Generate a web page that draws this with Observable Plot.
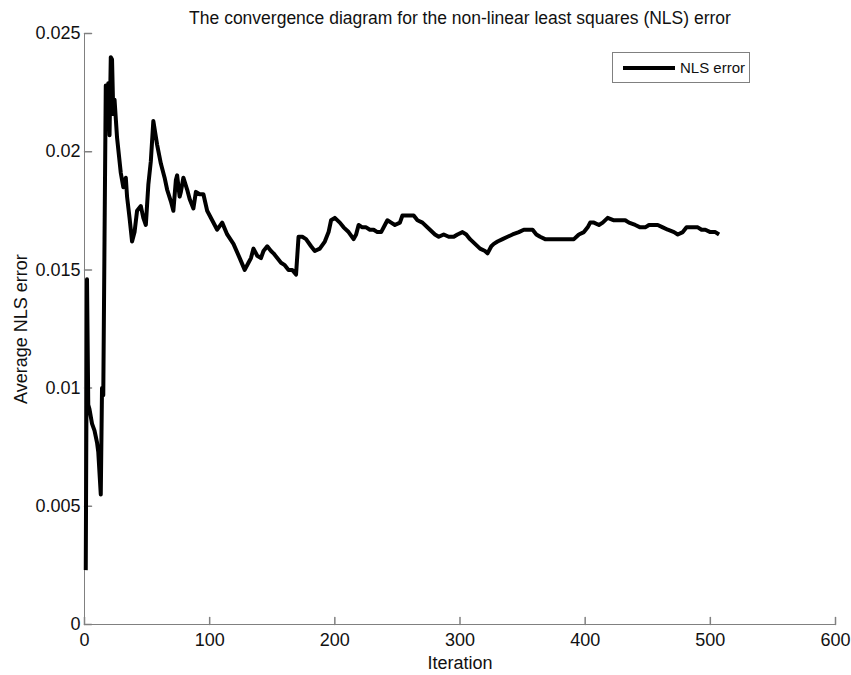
<!DOCTYPE html>
<html>
<head>
<meta charset="utf-8">
<script src="https://cdn.jsdelivr.net/npm/d3@7"></script>
<script src="https://cdn.jsdelivr.net/npm/@observablehq/plot@0.6"></script>
<style>
  body { margin: 0; background: #fff; }
  #chart { position: relative; width: 851px; height: 675px; }
  #legend {
    position: absolute; left: 612px; top: 52px; height: 29px; padding: 0 4px 0 10px;
    border: 1px solid #808080; background: #fff; display: flex; align-items: center;
    font-family: "Liberation Sans", Arial, sans-serif;
    font-size: 15px; color: #111;
  }
  #legend .swatch { width: 52px; height: 0; border-top: 4px solid #000; margin-right: 5px; }
</style>
</head>
<body>
<div id="chart"></div>
<script>
// Average NLS error recorded over the iterations
const iteration = [
  1, 2, 3, 4, 6, 8, 10, 11, 13, 14, 15, 16, 17, 18, 19, 20, 21, 22, 23, 24,
  26, 29, 31, 33, 34, 36, 38, 40, 42, 45, 47, 49, 51, 53, 55, 58, 61, 64, 66, 69,
  71, 73, 74, 76, 77, 79, 82, 84, 87, 89, 92, 95, 98, 102, 106, 110, 114, 119, 124, 128,
  131, 133, 135, 138, 141, 143, 146, 149, 151, 154, 157, 160, 163, 166, 169, 171, 174, 177, 181, 184,
  188, 192, 195, 197, 200, 204, 207, 211, 215, 217, 219, 222, 225, 228, 231, 234, 237, 240, 242, 245,
  248, 252, 254, 258, 263, 266, 270, 276, 280, 283, 287, 291, 295, 298, 302, 305, 308, 312, 316, 320,
  322, 325, 327, 330, 334, 338, 342, 347, 351, 355, 358, 361, 364, 368, 372, 377, 382, 387, 391, 395,
  399, 402, 404, 407, 411, 414, 418, 423, 428, 432, 435, 440, 444, 448, 451, 455, 458, 462, 466, 471,
  474, 478, 481, 485, 490, 493, 496, 500, 504, 507
];
const nlsError = [
  0.0023, 0.0146, 0.0093, 0.0091, 0.0085, 0.0082, 0.0077, 0.0073, 0.0055, 0.0100, 0.0097, 0.0163, 0.0228, 0.0222, 0.0229, 0.0207, 0.0240, 0.0239, 0.0216, 0.0222,
  0.0206, 0.0191, 0.0185, 0.0189, 0.0181, 0.0172, 0.0162, 0.0166, 0.0175, 0.0177, 0.0172, 0.0169, 0.0186, 0.0196, 0.0213, 0.0203, 0.0195, 0.0189, 0.0184, 0.0179,
  0.0175, 0.0188, 0.0190, 0.0181, 0.0183, 0.0189, 0.0184, 0.0180, 0.0176, 0.0183, 0.0182, 0.0182, 0.0175, 0.0171, 0.0167, 0.0170, 0.0165, 0.0161, 0.0155, 0.0150,
  0.0153, 0.0155, 0.0159, 0.0156, 0.0155, 0.0158, 0.0160, 0.0158, 0.0157, 0.0155, 0.0153, 0.0152, 0.0150, 0.0150, 0.0148, 0.0164, 0.0164, 0.0163, 0.0160, 0.0158,
  0.0159, 0.0162, 0.0166, 0.0171, 0.0172, 0.0170, 0.0168, 0.0166, 0.0163, 0.0165, 0.0169, 0.0168, 0.0168, 0.0167, 0.0167, 0.0166, 0.0166, 0.0169, 0.0171, 0.0170,
  0.0169, 0.0170, 0.0173, 0.0173, 0.0173, 0.0171, 0.0170, 0.0167, 0.0165, 0.0164, 0.0165, 0.0164, 0.0164, 0.0165, 0.0166, 0.0165, 0.0163, 0.0161, 0.0159, 0.0158,
  0.0157, 0.0160, 0.0161, 0.0162, 0.0163, 0.0164, 0.0165, 0.0166, 0.0167, 0.0167, 0.0167, 0.0165, 0.0164, 0.0163, 0.0163, 0.0163, 0.0163, 0.0163, 0.0163, 0.0165,
  0.0166, 0.0168, 0.0170, 0.0170, 0.0169, 0.0170, 0.0172, 0.0171, 0.0171, 0.0171, 0.0170, 0.0169, 0.0168, 0.0168, 0.0169, 0.0169, 0.0169, 0.0168, 0.0167, 0.0166,
  0.0165, 0.0166, 0.0168, 0.0168, 0.0168, 0.0167, 0.0167, 0.0166, 0.0166, 0.0165
];

const xTicks = [0, 100, 200, 300, 400, 500, 600];
const yTicks = [0, 0.005, 0.01, 0.015, 0.02, 0.025];
const yTickLabels = ["0", "0.005", "0.01", "0.015", "0.02", "0.025"];

const titleText = "The convergence diagram for the non-linear least squares (NLS) error";
const xLabel = "Iteration";
const yLabel = "Average NLS error";
const seriesName = "NLS error";

const series = iteration.map((it, i) => ({iteration: it, error: nlsError[i]}));

const axisGray = "#808080";
const font = '"Liberation Sans", Arial, sans-serif';

// inward-pointing tick: a short stroke drawn from the axis into the plot
const inwardTick = {draw(context, l) { context.moveTo(0, 0); context.lineTo(0, -l); }};

const chart = Plot.plot({
  width: 851,
  height: 675,
  marginLeft: 84,
  marginRight: 16,
  marginTop: 33,
  marginBottom: 51,
  style: {fontFamily: font, fontSize: "18px", color: "#111", background: "#fff"},
  x: {domain: [0, 600]},
  y: {domain: [0, 0.025]},
  marks: [
    Plot.ruleX([0], {stroke: axisGray}),
    Plot.ruleY([0], {stroke: axisGray}),
    Plot.vector(xTicks, {x: d => d, frameAnchor: "bottom", length: 7, anchor: "start", shape: inwardTick, stroke: axisGray}),
    Plot.vector(yTicks, {y: d => d, frameAnchor: "left", length: 7, anchor: "start", rotate: 90, shape: inwardTick, stroke: axisGray}),
    Plot.axisX(xTicks, {tickSize: 0, tickPadding: 9, label: xLabel, labelAnchor: "center", labelArrow: "none", labelOffset: 44}),
    Plot.axisY(yTicks, {tickSize: 0, tickPadding: 4, tickFormat: (d, i) => yTickLabels[i], label: yLabel, labelAnchor: "center", labelArrow: "none", labelOffset: 70}),
    Plot.line(series, {x: "iteration", y: "error", stroke: "#000", strokeWidth: 4, strokeLinejoin: "round", strokeLinecap: "butt"}),
    Plot.text([titleText], {text: d => d, frameAnchor: "top", dy: -22, fontSize: 17.5})
  ]
});

const host = document.getElementById("chart");
host.appendChild(chart);

const legend = document.createElement("div");
legend.id = "legend";
legend.innerHTML = `<span class="swatch"></span><span>${seriesName}</span>`;
host.appendChild(legend);
</script>
</body>
</html>
